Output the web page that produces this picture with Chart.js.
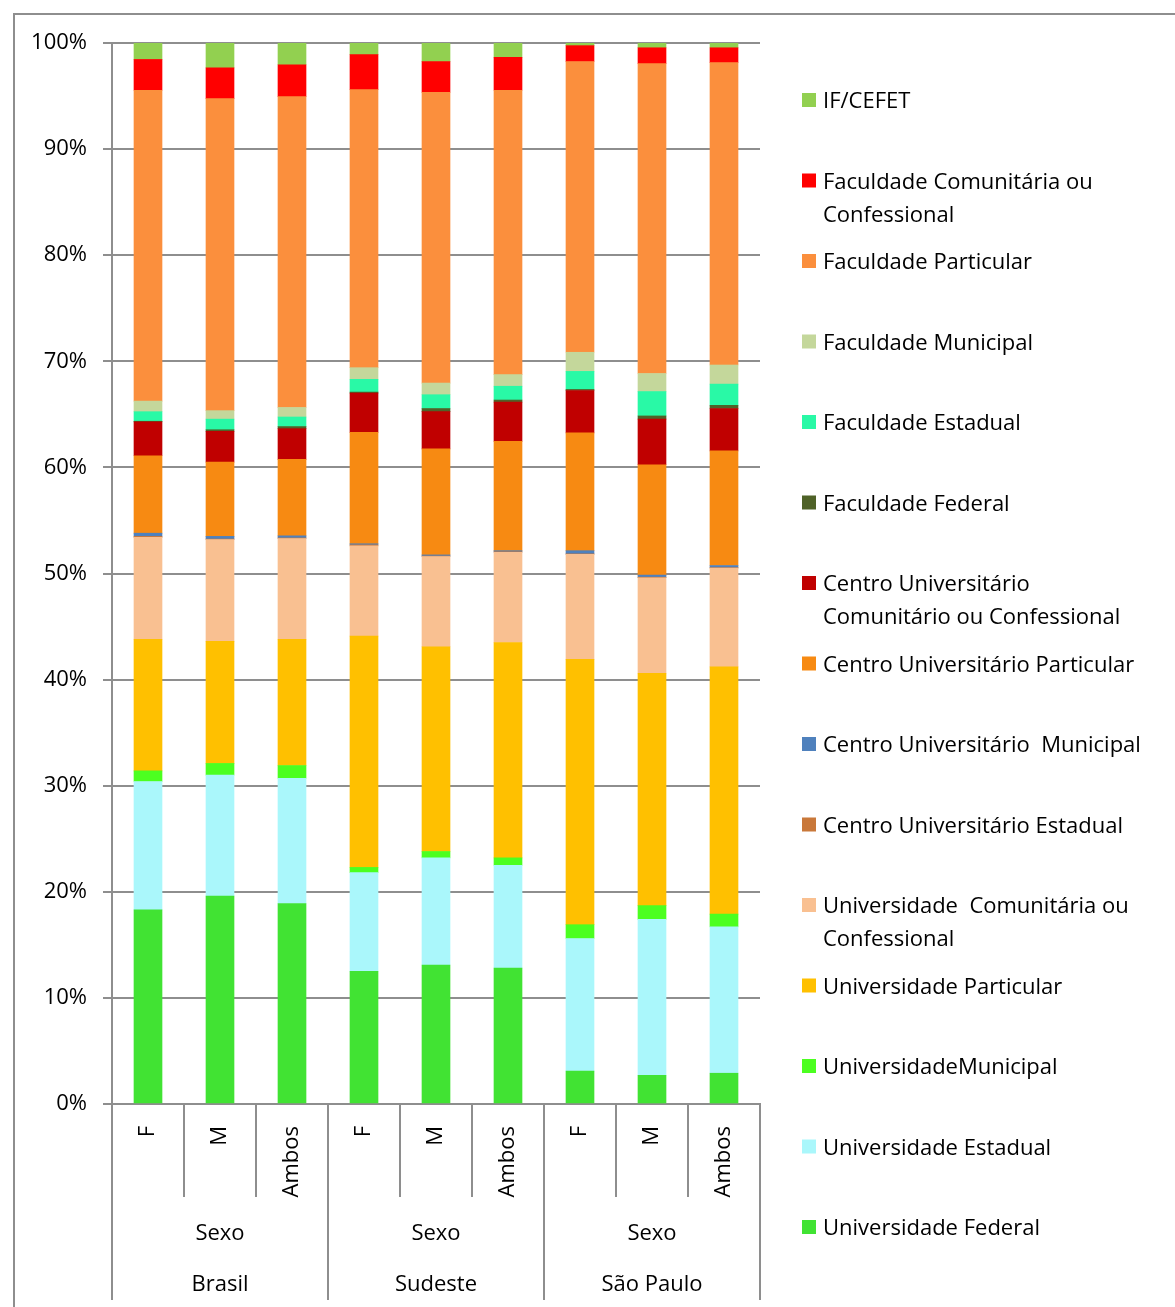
<!DOCTYPE html>
<html>
<head>
<meta charset="utf-8">
<script src="https://cdn.jsdelivr.net/npm/chart.js@4/dist/chart.umd.min.js"></script>
<style>
  body { margin: 0; background: #fff; }
  #wrap { width: 1175px; height: 1307px; position: relative; }
</style>
</head>
<body>
<div id="wrap"><canvas id="chart" width="1175" height="1307"></canvas></div>
<script>
// bars: Brasil F/M/Ambos, Sudeste F/M/Ambos, São Paulo F/M/Ambos
const categories = ["F", "M", "Ambos", "F", "M", "Ambos", "F", "M", "Ambos"];
const groups = ["Brasil", "Sudeste", "São Paulo"];
const subGroup = "Sexo";
const yTicks = [0, 10, 20, 30, 40, 50, 60, 70, 80, 90, 100];

// percentages, bottom of the stack first
const univFederal     = [18.3, 19.6, 18.9, 12.5, 13.1, 12.8, 3.1, 2.7, 2.9];
const univEstadual    = [12.1, 11.4, 11.8, 9.3, 10.1, 9.7, 12.5, 14.7, 13.8];
const univMunicipal   = [1.0, 1.1, 1.2, 0.5, 0.6, 0.7, 1.3, 1.3, 1.2];
const univParticular  = [12.4, 11.5, 11.9, 21.8, 19.3, 20.3, 25.0, 21.9, 23.3];
const univComunitaria = [9.6, 9.6, 9.5, 8.5, 8.5, 8.5, 9.9, 9.0, 9.3];
const cuEstadual      = [0.1, 0.05, 0.05, 0.1, 0.05, 0.05, 0.05, 0.05, 0.05];
const cuMunicipal     = [0.3, 0.25, 0.2, 0.1, 0.1, 0.1, 0.3, 0.2, 0.2];
const cuParticular    = [7.3, 7.0, 7.2, 10.5, 10.0, 10.3, 11.1, 10.4, 10.8];
const cuComunitario   = [3.2, 2.9, 2.9, 3.7, 3.5, 3.7, 4.0, 4.3, 4.0];
const facFederal      = [0.05, 0.15, 0.2, 0.1, 0.3, 0.2, 0.1, 0.3, 0.3];
const facEstadual     = [0.9, 1.0, 0.9, 1.2, 1.3, 1.3, 1.7, 2.3, 2.0];
const facMunicipal    = [1.0, 0.8, 0.9, 1.1, 1.1, 1.1, 1.8, 1.7, 1.8];
const facParticular   = [29.3, 29.4, 29.3, 26.2, 27.4, 26.8, 27.4, 29.2, 28.5];
const facComunitaria  = [2.9, 2.9, 3.0, 3.3, 2.9, 3.1, 1.5, 1.5, 1.4];
const ifCefet         = [1.55, 2.35, 2.05, 1.1, 1.75, 1.35, 0.25, 0.45, 0.45];

const FONT = "'Open Sans', sans-serif";

function ds(label, data, color) {
  return { label: label, data: data, backgroundColor: color, borderWidth: 0 };
}

const datasets = [
  ds("Universidade Federal", univFederal, "#41E333"),
  ds("Universidade Estadual", univEstadual, "#AAF7FB"),
  ds("UniversidadeMunicipal", univMunicipal, "#4CFF20"),
  ds("Universidade Particular", univParticular, "#FFC000"),
  ds("Universidade  Comunitária ou\nConfessional", univComunitaria, "#F9C091"),
  ds("Centro Universitário Estadual", cuEstadual, "#C9783A"),
  ds("Centro Universitário  Municipal", cuMunicipal, "#4F81BD"),
  ds("Centro Universitário Particular", cuParticular, "#F78A12"),
  ds("Centro Universitário\nComunitário ou Confessional", cuComunitario, "#C00000"),
  ds("Faculdade Federal", facFederal, "#4F6228"),
  ds("Faculdade Estadual", facEstadual, "#29F9A6"),
  ds("Faculdade Municipal", facMunicipal, "#C4D79B"),
  ds("Faculdade Particular", facParticular, "#FB8F3D"),
  ds("Faculdade Comunitária ou\nConfessional", facComunitaria, "#FF0000"),
  ds("IF/CEFET", ifCefet, "#92D050")
];

// group separators + "Sexo"/region rows under the axis, the legend and the frame
const extras = {
  id: "extras",
  afterDraw(chart) {
    const ctx = chart.ctx;
    const x = chart.scales.x;
    const area = chart.chartArea;
    const cw = (area.right - area.left) / categories.length;
    ctx.save();
    ctx.strokeStyle = "#8e8e8e";
    ctx.lineWidth = 2;
    for (let i = 0; i <= categories.length; i++) {
      const px = Math.round(area.left + i * cw);
      const end = (i % 3 === 0) ? 1300 : area.bottom + 93;
      ctx.beginPath();
      ctx.moveTo(px, area.bottom);
      ctx.lineTo(px, end);
      ctx.stroke();
    }
    ctx.fillStyle = "#000";
    ctx.font = "22px " + FONT;
    ctx.textAlign = "center";
    ctx.textBaseline = "middle";
    groups.forEach((g, gi) => {
      const cx = (x.getPixelForValue(gi * 3) + x.getPixelForValue(gi * 3 + 2)) / 2;
      ctx.fillText(subGroup, cx, 1234);
      ctx.fillText(g, cx, 1285);
    });

    // legend, reversed like the original
    ctx.textAlign = "left";
    const items = chart.data.datasets.slice().reverse();
    items.forEach((d, i) => {
      const y = 101 + i * 80.5;
      ctx.fillStyle = d.backgroundColor;
      ctx.fillRect(802, y - 8, 14, 14);
      ctx.fillStyle = "#000";
      d.label.split("\n").forEach((line, li) => {
        ctx.fillText(line, 823, y + 1 + li * 33);
      });
    });

    // outer frame
    ctx.strokeStyle = "#8e8e8e";
    ctx.lineWidth = 2;
    ctx.beginPath();
    ctx.moveTo(14, 1307);
    ctx.lineTo(14, 14);
    ctx.lineTo(1175, 14);
    ctx.stroke();
    ctx.restore();
  }
};

new Chart(document.getElementById("chart"), {
  type: "bar",
  data: { labels: categories, datasets: datasets },
  options: {
    responsive: false,
    animation: false,
    layout: { padding: { left: 14, top: 43, right: 415, bottom: 0 } },
    datasets: { bar: { barThickness: 28 } },
    plugins: { legend: { display: false }, tooltip: { enabled: false } },
    scales: {
      x: {
        stacked: true,
        grid: { display: false },
        border: { display: true, color: "#8e8e8e", width: 2 },
        ticks: {
          color: "#000", font: { family: FONT, size: 22 },
          minRotation: 90, maxRotation: 90, autoSkip: false, padding: 14
        },
        afterFit(scale) { scale.height = 203; }
      },
      y: {
        stacked: true,
        min: 0, max: 100,
        grid: { color: "#8e8e8e", lineWidth: 2, tickLength: 9 },
        border: { display: true, color: "#8e8e8e", width: 2 },
        ticks: {
          color: "#000", font: { family: FONT, size: 22 }, padding: 16,
          stepSize: 10,
          callback: (v) => yTicks.includes(v) ? v + "%" : ""
        },
        afterFit(scale) { scale.width = 98; }
      }
    }
  },
  plugins: [extras]
});
</script>
</body>
</html>
